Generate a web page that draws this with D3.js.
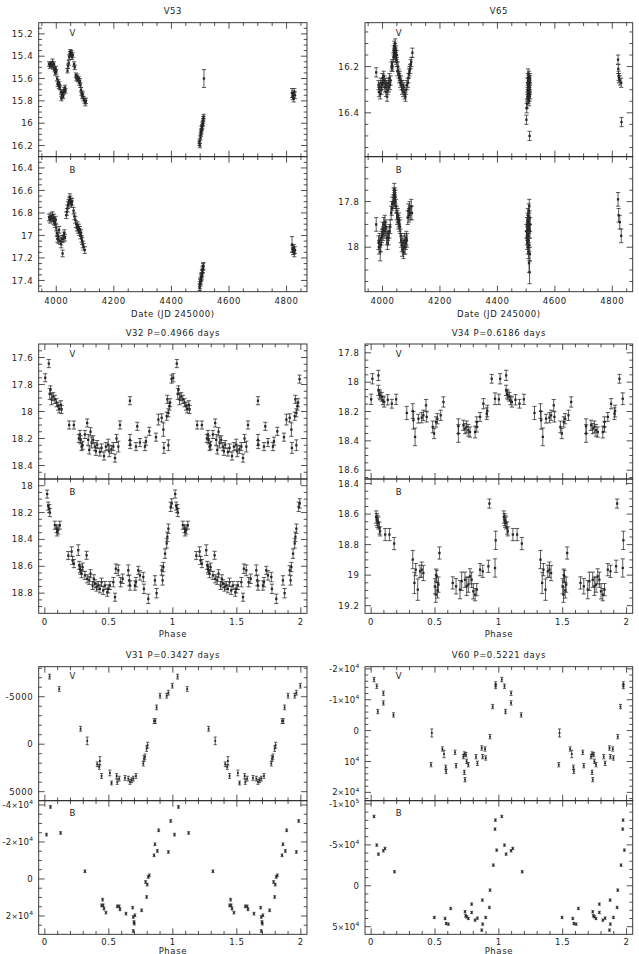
<!DOCTYPE html>
<html><head><meta charset="utf-8">
<script src="https://cdn.jsdelivr.net/npm/d3@7"></script>
<style>
body{margin:0;background:#fff}
text{font-family:"DejaVu Sans",sans-serif;font-size:8.5px;letter-spacing:0.6px;fill:#222}
</style>
</head><body>
<svg id="c" width="639" height="954"></svg>
<script>
// ---------------- DATA ----------------
const titles = ["V53","V65","V32 P=0.4966 days","V34 P=0.6186 days","V31 P=0.3427 days","V60 P=0.5221 days"];
const dateTitle = "Date (JD 245000)";
const phaseTitle = "Phase";
const dateTicks = [4000,4200,4400,4600,4800];
const phaseTicks = [0,0.5,1,1.5,2];
const phaseLabels = ["0","0.5","1","1.5","2"];

const v53VTicks = [15.2,15.4,15.6,15.8,16,16.2];
const v53BTicks = [16.4,16.6,16.8,17,17.2,17.4];
const v65VTicks = [16.2,16.4];
const v65BTicks = [17.8,18];
const v32VTicks = [17.6,17.8,18,18.2,18.4];
const v32BTicks = [18,18.2,18.4,18.6,18.8];
const v34VTicks = [17.8,18,18.2,18.4,18.6];
const v34BTicks = [18.4,18.6,18.8,19,19.2];
const v31VTicks = [-5000,0,5000];
const v31VLabels = ["-5000","0","5000"];
const v31BTicks = [-40000,-20000,0,20000];
const v31BLabels = ["-4×10^4","-2×10^4","0","2×10^4"];
const v60VTicks = [-20000,-10000,0,10000,20000];
const v60VLabels = ["-2×10^4","-1×10^4","0","10^4","2×10^4"];
const v60BTicks = [-100000,-50000,0,50000];
const v60BLabels = ["-1×10^5","-5×10^4","0","5×10^4"];

// [date, mag, err]
const v53V = [[3975,15.47,.02],[3978,15.49,.02],[3981,15.47,.02],[3984,15.48,.025],[3987,15.45,.025],[3990,15.5,.02],[3992,15.47,.02],[3994,15.52,.02],[3996,15.55,.02],[3998,15.51,.02],[4000,15.54,.02],[4003,15.6,.02],[4005,15.65,.02],[4007,15.63,.02],[4009,15.67,.02],[4011,15.65,.02],[4013,15.68,.02],[4016,15.72,.02],[4018,15.78,.02],[4020,15.75,.02],[4022,15.73,.02],[4024,15.76,.02],[4026,15.72,.02],[4028,15.7,.02],[4030,15.68,.02],[4032,15.71,.02],[4039,15.53,.02],[4041,15.49,.02],[4043,15.46,.02],[4045,15.41,.02],[4047,15.38,.02],[4049,15.36,.02],[4051,15.38,.02],[4053,15.37,.02],[4055,15.41,.02],[4057,15.39,.02],[4062,15.47,.02],[4064,15.5,.02],[4068,15.57,.02],[4070,15.6,.02],[4073,15.58,.02],[4075,15.61,.02],[4078,15.6,.02],[4080,15.64,.02],[4082,15.62,.02],[4084,15.66,.02],[4086,15.7,.02],[4088,15.73,.02],[4090,15.76,.02],[4092,15.74,.02],[4095,15.78,.02],[4098,15.8,.02],[4101,15.82,.025],[4103,15.8,.025],
 [4497,16.18,.02],[4498,16.16,.02],[4499,16.2,.02],[4501,16.13,.02],[4502,16.1,.02],[4503,16.08,.02],[4504,16.07,.02],[4505,16.05,.02],[4506,16.04,.02],[4507,16.03,.02],[4508,16.01,.02],[4509,16.0,.02],[4510,15.98,.02],[4511,15.96,.02],[4512,15.94,.02],[4513,15.6,.08],
 [4819,15.73,.04],[4821,15.76,.03],[4823,15.74,.03],[4825,15.78,.03],[4827,15.72,.03],[4829,15.75,.03]];
const v53B = [[3975,16.84,.03],[3978,16.86,.03],[3981,16.83,.03],[3984,16.85,.03],[3987,16.82,.03],[3990,16.87,.03],[3992,16.84,.03],[3994,16.88,.03],[3996,16.9,.03],[3998,16.86,.03],[4000,16.93,.03],[4002,16.98,.03],[4004,17.03,.03],[4006,17.0,.03],[4008,17.04,.03],[4010,16.95,.03],[4014,17.05,.03],[4017,17.08,.03],[4020,17.03,.03],[4022,17.16,.03],[4024,17.03,.03],[4026,17.0,.03],[4028,16.98,.03],[4030,17.02,.03],[4035,16.82,.03],[4037,16.79,.03],[4039,16.76,.03],[4041,16.73,.03],[4043,16.71,.03],[4045,16.69,.03],[4047,16.66,.03],[4049,16.68,.03],[4051,16.7,.03],[4053,16.72,.03],[4055,16.7,.03],[4060,16.78,.03],[4063,16.83,.03],[4066,16.86,.03],[4069,16.9,.03],[4072,16.93,.03],[4074,16.91,.03],[4076,16.95,.03],[4078,16.93,.03],[4080,16.97,.03],[4082,16.95,.03],[4084,17.0,.03],[4086,16.98,.03],[4088,17.03,.03],[4090,17.05,.03],[4092,17.08,.03],[4095,17.1,.03],[4099,17.13,.03],
 [4498,17.46,.03],[4499,17.44,.03],[4500,17.42,.03],[4501,17.41,.03],[4502,17.4,.03],[4503,17.38,.03],[4504,17.37,.03],[4505,17.36,.03],[4506,17.34,.03],[4507,17.33,.03],[4508,17.31,.03],[4509,17.3,.03],[4510,17.28,.03],[4511,17.27,.03],
 [4819,17.08,.07],[4821,17.12,.03],[4823,17.14,.03],[4825,17.11,.03],[4827,17.16,.03],[4829,17.13,.03]];
const v65V = [[3978,16.225,.02],[3986,16.28,.02],[3988,16.31,.02],[3990,16.29,.02],[3992,16.32,.02],[3994,16.27,.02],[3996,16.3,.02],[3998,16.28,.02],[4000,16.25,.02],[4002,16.27,.02],[4004,16.24,.02],[4006,16.26,.02],[4008,16.29,.02],[4010,16.27,.02],[4012,16.31,.02],[4014,16.28,.02],[4016,16.33,.02],[4018,16.3,.02],[4020,16.27,.02],[4022,16.29,.02],[4024,16.25,.02],[4026,16.28,.02],[4028,16.26,.02],[4031,16.2,.02],[4033,16.19,.02],[4035,16.2,.02],[4038,16.16,.02],[4039,16.13,.02],[4040,16.14,.02],[4041,16.11,.02],[4042,16.15,.02],[4043,16.12,.02],[4044,16.1,.02],[4045,16.14,.02],[4046,16.16,.02],[4047,16.13,.02],[4048,16.17,.02],[4049,16.15,.02],[4050,16.18,.02],[4052,16.22,.02],[4054,16.2,.02],[4056,16.23,.02],[4058,16.25,.02],[4060,16.24,.02],[4062,16.27,.02],[4064,16.26,.02],[4066,16.28,.02],[4068,16.3,.02],[4070,16.28,.02],[4072,16.31,.02],[4074,16.29,.02],[4077,16.32,.02],[4080,16.33,.02],[4082,16.3,.02],[4085,16.28,.02],[4088,16.27,.02],[4090,16.25,.02],[4092,16.23,.02],[4094,16.22,.02],[4096,16.21,.02],[4098,16.19,.02],[4100,16.18,.02],[4104,16.14,.02],
 [4501,16.43,.02],[4502,16.38,.02],[4503,16.36,.02],[4504,16.33,.02],[4505,16.3,.02],[4505,16.27,.02],[4506,16.25,.02],[4506,16.32,.02],[4507,16.29,.02],[4507,16.23,.02],[4508,16.34,.02],[4508,16.26,.02],[4509,16.28,.02],[4509,16.31,.02],[4510,16.24,.02],[4510,16.35,.02],[4511,16.3,.02],[4511,16.27,.02],[4512,16.33,.02],[4512,16.5,.02],[4513,16.25,.02],[4513,16.29,.02],[4514,16.32,.02],[4514,16.26,.02],
 [4820,16.17,.02],[4821,16.21,.02],[4822,16.24,.02],[4823,16.25,.02],[4826,16.26,.02],[4831,16.27,.02],[4832,16.44,.02]];
const v65B = [[3978,17.9,.03],[3986,17.98,.03],[3988,18.0,.03],[3990,17.97,.03],[3992,18.02,.04],[3994,17.99,.03],[3996,17.96,.03],[3998,17.95,.03],[4000,17.92,.03],[4002,17.94,.03],[4004,17.9,.03],[4006,17.93,.03],[4008,17.89,.03],[4010,17.92,.03],[4012,17.91,.03],[4015,17.96,.03],[4017,17.98,.03],[4019,17.94,.03],[4021,17.96,.03],[4024,17.93,.03],[4027,17.91,.03],[4030,17.85,.03],[4032,17.83,.03],[4034,17.81,.03],[4038,17.8,.03],[4039,17.77,.03],[4040,17.78,.03],[4041,17.75,.03],[4042,17.79,.03],[4043,17.77,.03],[4044,17.8,.03],[4045,17.78,.03],[4047,17.82,.03],[4049,17.85,.03],[4051,17.87,.03],[4053,17.86,.03],[4055,17.89,.03],[4057,17.88,.03],[4059,17.9,.03],[4061,17.91,.03],[4063,17.95,.03],[4065,17.97,.03],[4067,17.99,.03],[4069,18.01,.03],[4071,17.98,.03],[4073,18.02,.03],[4075,18.0,.03],[4077,17.97,.03],[4079,18.0,.03],[4081,17.98,.03],[4083,17.96,.03],[4085,17.97,.03],[4088,17.87,.03],[4090,17.84,.03],[4092,17.86,.03],[4094,17.83,.03],[4097,17.85,.03],[4100,17.82,.03],[4102,17.85,.03],
 [4501,17.93,.03],[4502,17.96,.03],[4503,17.9,.03],[4504,17.98,.03],[4505,17.88,.03],[4505,17.94,.03],[4506,17.86,.03],[4506,18.0,.03],[4507,17.92,.03],[4507,17.97,.03],[4508,17.89,.03],[4508,18.02,.03],[4509,17.84,.03],[4509,17.95,.03],[4510,17.91,.03],[4510,18.07,.04],[4511,17.82,.03],[4511,17.99,.03],[4512,17.87,.03],[4512,18.11,.05],[4513,17.93,.03],[4513,18.03,.03],[4514,17.9,.03],
 [4820,17.79,.03],[4822,17.86,.03],[4826,17.89,.03],[4831,17.95,.03]];

// [phase, mag, err]
const v32V = [[0.003,17.75,.03],[0.031,17.645,.03],[0.039,17.87,.04],[0.044,17.84,.03],[0.052,17.91,.04],[0.065,17.89,.03],[0.078,17.91,.03],[0.091,17.935,.03],[0.104,17.96,.03],[0.112,17.98,.03],[0.125,17.95,.03],[0.13,17.985,.03],[0.19,18.1,.03],[0.227,18.1,.03],[0.266,18.2,.03],[0.274,18.17,.03],[0.279,18.21,.03],[0.287,18.26,.03],[0.295,18.25,.03],[0.313,18.17,.03],[0.331,18.085,.03],[0.339,18.21,.04],[0.347,18.285,.03],[0.357,18.15,.03],[0.365,18.23,.04],[0.378,18.21,.03],[0.391,18.26,.03],[0.399,18.295,.03],[0.409,18.245,.03],[0.43,18.3,.03],[0.443,18.27,.03],[0.462,18.33,.03],[0.477,18.26,.03],[0.495,18.245,.04],[0.503,18.295,.04],[0.52,18.28,.03],[0.535,18.26,.03],[0.548,18.345,.03],[0.56,18.2,.03],[0.574,18.26,.04],[0.587,18.1,.03],[0.665,17.92,.03],[0.665,18.21,.04],[0.667,18.245,.03],[0.712,18.26,.03],[0.722,18.11,.03],[0.743,18.23,.03],[0.782,18.26,.03],[0.79,18.22,.03],[0.816,18.147,.03],[0.868,18.19,.03],[0.887,18.06,.04],[0.913,18.047,.03],[0.926,18.134,.05],[0.93,18.27,.04],[0.952,18.035,.03],[0.957,17.91,.03],[0.965,18.01,.03],[0.965,18.25,.04],[0.973,17.96,.03],[0.978,17.935,.03],[0.99,17.76,.03]];
const v32B = [[0.018,18.062,.03],[0.026,18.152,.03],[0.034,18.17,.03],[0.039,18.2,.03],[0.078,18.294,.03],[0.091,18.32,.03],[0.096,18.344,.03],[0.104,18.33,.03],[0.117,18.294,.03],[0.183,18.52,.03],[0.209,18.49,.035],[0.216,18.556,.03],[0.227,18.58,.03],[0.261,18.48,.04],[0.269,18.593,.03],[0.274,18.618,.03],[0.279,18.63,.03],[0.287,18.655,.03],[0.295,18.606,.03],[0.313,18.668,.03],[0.326,18.518,.03],[0.331,18.693,.03],[0.347,18.705,.03],[0.357,18.655,.03],[0.373,18.743,.03],[0.383,18.693,.03],[0.391,18.73,.03],[0.404,18.755,.03],[0.417,18.743,.03],[0.43,18.768,.03],[0.443,18.718,.03],[0.456,18.78,.03],[0.469,18.743,.03],[0.488,18.793,.03],[0.495,18.768,.03],[0.508,18.743,.03],[0.535,18.718,.035],[0.548,18.83,.03],[0.555,18.618,.035],[0.574,18.63,.04],[0.592,18.718,.035],[0.608,18.693,.035],[0.652,18.63,.04],[0.66,18.705,.04],[0.665,18.743,.035],[0.704,18.743,.035],[0.712,18.718,.035],[0.73,18.63,.03],[0.743,18.668,.035],[0.769,18.68,.035],[0.774,18.768,.035],[0.808,18.842,.035],[0.86,18.705,.035],[0.873,18.8,.035],[0.913,18.63,.035],[0.92,18.705,.035],[0.926,18.606,.035],[0.939,18.506,.035],[0.952,18.43,.035],[0.957,18.38,.035],[0.965,18.32,.035],[0.983,18.157,.035],[0.991,18.132,.035]];
const v34V = [[0.0,18.117,.035],[0.01,17.977,.035],[0.057,17.954,.035],[0.057,18.056,.035],[0.065,18.079,.03],[0.07,18.09,.03],[0.083,18.1,.03],[0.091,18.124,.03],[0.102,18.135,.035],[0.13,18.12,.035],[0.162,18.147,.03],[0.196,18.117,.035],[0.279,18.21,.045],[0.326,18.197,.05],[0.331,18.26,.06],[0.344,18.373,.06],[0.37,18.249,.03],[0.396,18.242,.035],[0.409,18.226,.035],[0.43,18.158,.04],[0.435,18.237,.035],[0.482,18.305,.04],[0.493,18.35,.035],[0.508,18.271,.035],[0.519,18.249,.035],[0.545,18.226,.035],[0.566,18.135,.035],[0.683,18.3,.05],[0.683,18.35,.06],[0.722,18.294,.035],[0.735,18.317,.035],[0.748,18.305,.04],[0.761,18.328,.04],[0.774,18.34,.035],[0.814,18.34,.04],[0.827,18.305,.035],[0.827,18.271,.035],[0.853,18.237,.03],[0.879,18.147,.035],[0.905,18.215,.04],[0.91,18.197,.04],[0.944,17.977,.03],[0.97,18.113,.04]];
const v34B = [[0.039,18.619,.04],[0.044,18.636,.04],[0.05,18.647,.04],[0.057,18.658,.04],[0.065,18.691,.04],[0.07,18.713,.03],[0.11,18.734,.04],[0.143,18.734,.04],[0.18,18.793,.04],[0.326,18.898,.06],[0.339,19.051,.07],[0.349,18.964,.04],[0.365,19.095,.07],[0.383,18.975,.04],[0.396,18.964,.05],[0.409,18.986,.05],[0.5,19.073,.05],[0.506,19.128,.05],[0.508,19.0,.04],[0.514,19.008,.04],[0.52,19.1,.05],[0.527,19.062,.05],[0.535,18.855,.04],[0.639,19.051,.04],[0.665,19.073,.05],[0.696,19.095,.06],[0.709,19.04,.06],[0.735,19.03,.05],[0.748,19.073,.06],[0.761,19.062,.05],[0.774,19.008,.05],[0.787,19.03,.05],[0.8,19.106,.05],[0.814,19.128,.04],[0.827,19.095,.04],[0.853,18.964,.04],[0.874,18.975,.04],[0.918,18.942,.04],[0.926,18.531,.03],[0.97,18.953,.06],[0.975,18.772,.06]];
const v31V = [[0.037,-7112,250],[0.112,-5810,250],[0.279,-1620,250],[0.331,-352,400],[0.409,2113,250],[0.425,2394,250],[0.43,1760,450],[0.443,3345,250],[0.508,3028,300],[0.521,4084,200],[0.561,3345,250],[0.566,3979,250],[0.581,3627,250],[0.626,3556,250],[0.652,3627,250],[0.665,3979,250],[0.678,3803,250],[0.691,3627,250],[0.712,3345,250],[0.769,2042,250],[0.774,1514,300],[0.782,1338,300],[0.795,458,300],[0.803,106,300],[0.853,-2430,250],[0.863,-2430,250],[0.873,-3873,250],[0.9,-5106,250],[0.952,-5106,250],[0.965,-5423,250],[0.996,-6162,250]];
const v31B = [[0.013,-23970,700],[0.044,-38920,700],[0.123,-24870,700],[0.313,-4145,700],[0.451,11170,700],[0.443,14240,700],[0.456,14240,700],[0.462,16040,700],[0.477,18200,700],[0.566,14780,700],[0.581,14780,700],[0.587,16400,700],[0.634,18740,700],[0.686,15500,700],[0.691,20540,700],[0.696,23250,700],[0.699,24150,700],[0.691,28110,700],[0.704,19640,700],[0.756,16940,700],[0.795,9730,700],[0.787,1620,700],[0.8,3060,700],[0.808,-1080,700],[0.816,-1980,700],[0.853,-12790,700],[0.86,-18740,700],[0.879,-15140,700],[0.889,-26310,700],[0.965,-14600,700],[0.983,-31350,700]];
const v60V = [[0.023,-16540,700],[0.044,-14380,700],[0.052,-6160,700],[0.096,-12110,700],[0.096,-8970,700],[0.175,-5080,700],[0.475,760,1300],[0.469,11030,700],[0.558,5950,700],[0.571,7570,1200],[0.584,11890,700],[0.587,13190,700],[0.657,7030,700],[0.665,11350,700],[0.722,8430,700],[0.73,7570,700],[0.743,7780,700],[0.748,9950,700],[0.761,11030,700],[0.73,13510,700],[0.735,15890,700],[0.821,8430,700],[0.832,10590,700],[0.866,5620,700],[0.873,8430,700],[0.892,5950,700],[0.897,8860,700],[0.931,1950,700],[0.952,-7780,700],[0.975,-15130,700],[0.975,-14270,700]];
const v60B = [[0.023,-84760,1400],[0.044,-49720,1400],[0.057,-38710,1400],[0.096,-42790,1400],[0.109,-45640,1400],[0.183,-17110,1400],[0.495,38710,1400],[0.579,39940,1400],[0.587,46050,1400],[0.605,46860,1400],[0.623,27710,1400],[0.735,31790,1400],[0.74,36680,1400],[0.748,37900,1400],[0.761,39940,1400],[0.787,22410,1400],[0.787,32600,1400],[0.814,41970,1400],[0.832,39530,1400],[0.871,17520,1400],[0.873,46860,1400],[0.866,54200,1400],[0.897,38710,1400],[0.926,26490,1400],[0.931,5300,1400],[0.957,-25270,1400],[0.97,-69280,1400],[0.973,-80280,1400],[0.983,-43600,1400]];

// ---------------- LAYOUT ----------------
const svg = d3.select("#c");
const cols = [{l:38.7,r:307},{l:365,r:632.7}];
const rows = [{t:22.7,m:156.7,b:291.7,xl:11.8,xt:25},{t:344,m:479,b:613.3,xl:11.8,xt:24},{t:666.7,m:800.7,b:934.3,xl:10.2,xt:19.2}];
const dateDom = [3939,4871], phaseDom = [-0.048,2.048];
const ink = "#262626";

const panels = [
 {c:0,r:0,title:titles[0],xd:dateDom,xt:dateTicks,xl:dateTicks.map(String),xm:50,fold:false,xtitle:dateTitle,
  sub:[{d:v53V,yd:[15.1,16.3],yt:v53VTicks,ym:0.05,lab:"V",ly:33},{d:v53B,yd:[16.3,17.5],yt:v53BTicks,ym:0.05,lab:"B",ly:170}]},
 {c:1,r:0,title:titles[1],xd:dateDom,xt:dateTicks,xl:dateTicks.map(String),xm:50,fold:false,xtitle:dateTitle,
  sub:[{d:v65V,yd:[16.01,16.59],yt:v65VTicks,ym:0.05,lab:"V",ly:33},{d:v65B,yd:[17.603,18.195],yt:v65BTicks,ym:0.05,lab:"B",ly:170}]},
 {c:0,r:1,title:titles[2],xd:phaseDom,xt:phaseTicks,xl:phaseLabels,xm:0.1,fold:true,xtitle:phaseTitle,
  sub:[{d:v32V,yd:[17.5,18.5],yt:v32VTicks,ym:0.05,lab:"V",ly:354.3},{d:v32B,yd:[17.95,18.95],yt:v32BTicks,ym:0.05,lab:"B",ly:492}]},
 {c:1,r:1,title:titles[3],xd:phaseDom,xt:phaseTicks,xl:phaseLabels,xm:0.1,fold:true,xtitle:phaseTitle,
  sub:[{d:v34V,yd:[17.74,18.66],yt:v34VTicks,ym:0.05,lab:"V",ly:354.3},{d:v34B,yd:[18.37,19.25],yt:v34BTicks,ym:0.05,lab:"B",ly:492}]},
 {c:0,r:2,title:titles[4],xd:phaseDom,xt:phaseTicks,xl:phaseLabels,xm:0.1,fold:true,xtitle:phaseTitle,small:true,
  sub:[{d:v31V,yd:[-8160,5950],yt:v31VTicks,yl:v31VLabels,ym:1000,lab:"V",ly:676},{d:v31B,yd:[-42300,29900],yt:v31BTicks,yl:v31BLabels,ym:5000,lab:"B",ly:813.3}]},
 {c:1,r:2,title:titles[5],xd:phaseDom,xt:phaseTicks,xl:phaseLabels,xm:0.1,fold:true,xtitle:phaseTitle,small:true,
  sub:[{d:v60V,yd:[-20700,22700],yt:v60VTicks,yl:v60VLabels,ym:2000,lab:"V",ly:676},{d:v60B,yd:[-104000,59300],yt:v60BTicks,yl:v60BLabels,ym:10000,lab:"B",ly:813.3}]}
];

function tickVals(dom, step) {
  const lo = Math.min(dom[0], dom[1]), hi = Math.max(dom[0], dom[1]);
  const out = [];
  for (let k = Math.ceil(lo / step - 1e-6); k * step <= hi + 1e-9; k++) out.push(+(k * step).toFixed(6));
  return out;
}
function isMajor(v, majors, step) { return majors.some(m => Math.abs(m - v) < step * 0.01); }
function setLabel(sel, s) {
  const parts = String(s).split("^");
  if (parts[1]) {
    sel.style("letter-spacing", "0.2px");
    const base = parts[0].split("×");
    if (base.length > 1) {
      sel.append("tspan").text(base[0]);
      sel.append("tspan").style("font-size", "7.5px").text("×");
      sel.append("tspan").text(base[1]);
    } else sel.append("tspan").text(parts[0]);
    sel.append("tspan").attr("dy", -3.6).style("font-size", "6px").text(parts[1]);
  } else sel.append("tspan").text(parts[0]);
}

let clipId = 0;
panels.forEach(p => {
  const L = cols[p.c].l, R = cols[p.c].r, row = rows[p.r];
  const x = d3.scaleLinear().domain(p.xd).range([L, R]);
  const g = svg.append("g");
  g.append("text").attr("x", (L + R) / 2).attr("y", row.t - 8.5).attr("text-anchor", "middle").text(p.title);
  g.append("text").attr("x", (L + R) / 2).attr("y", row.b + row.xt).attr("text-anchor", "middle").text(p.xtitle);

  p.sub.forEach((s, i) => {
    const T = i === 0 ? row.t : row.m, B = i === 0 ? row.m : row.b;
    const y = d3.scaleLinear().domain(s.yd).range([T, B]);
    const id = "clip" + (clipId++);
    g.append("clipPath").attr("id", id).append("rect").attr("x", L).attr("y", T).attr("width", R - L).attr("height", B - T);

    const tk = g.append("g").attr("stroke", ink).attr("stroke-width", 0.8);
    tickVals(p.xd, p.xm).forEach(v => {
      const len = isMajor(v, p.xt, p.xm) ? 6 : 3.3;
      const px = x(v);
      if (px < L + 0.5 || px > R - 0.5) return;
      tk.append("line").attr("x1", px).attr("x2", px).attr("y1", T).attr("y2", T + len);
      tk.append("line").attr("x1", px).attr("x2", px).attr("y1", B).attr("y2", B - len);
    });
    tickVals(s.yd, s.ym).forEach(v => {
      const len = isMajor(v, s.yt, s.ym) ? 6 : 3.3;
      const py = y(v);
      if (py < T + 0.5 || py > B - 0.5) return;
      tk.append("line").attr("x1", L).attr("x2", L + len).attr("y1", py).attr("y2", py);
      tk.append("line").attr("x1", R).attr("x2", R - len).attr("y1", py).attr("y2", py);
    });
    s.yt.forEach((v, j) => {
      const t = g.append("text").attr("x", L - 5.5).attr("y", y(v)).attr("dy", "0.36em").attr("text-anchor", "end");
      setLabel(t, s.yl ? s.yl[j] : String(v));
    });
    if (i === 1) p.xt.forEach((v, j) => {
      g.append("text").attr("x", x(v)).attr("y", row.b + row.xl).attr("text-anchor", "middle").text(p.xl[j]);
    });
    g.append("rect").attr("x", L).attr("y", T).attr("width", R - L).attr("height", B - T)
      .attr("fill", "none").attr("stroke", ink).attr("stroke-width", 0.9);
    g.append("text").attr("x", L + 34).attr("y", s.ly).attr("dy", "0.36em").attr("text-anchor", "middle").text(s.lab);

    const pts = p.fold ? s.d.flatMap(d => [[d[0], d[1], d[2]], [d[0] + 1, d[1], d[2]]]) : s.d;
    const cap = p.small ? 1.5 : 2.1, mk = p.small ? 1.8 : 2.3;
    const dg = g.append("g").attr("clip-path", `url(#${id})`).attr("stroke", ink).attr("stroke-width", 0.75);
    const sel = dg.selectAll("g.pt").data(pts).join("g").attr("class", "pt");
    sel.append("line").attr("x1", d => x(d[0])).attr("x2", d => x(d[0]))
      .attr("y1", d => y(d[1] - d[2])).attr("y2", d => y(d[1] + d[2]));
    sel.append("line").attr("x1", d => x(d[0]) - cap).attr("x2", d => x(d[0]) + cap)
      .attr("y1", d => y(d[1] - d[2])).attr("y2", d => y(d[1] - d[2]));
    sel.append("line").attr("x1", d => x(d[0]) - cap).attr("x2", d => x(d[0]) + cap)
      .attr("y1", d => y(d[1] + d[2])).attr("y2", d => y(d[1] + d[2]));
    sel.append("rect").attr("x", d => x(d[0]) - mk / 2).attr("y", d => y(d[1]) - mk / 2)
      .attr("width", mk).attr("height", mk).attr("fill", ink).attr("stroke", "none");
  });
});
</script>
</body></html>
